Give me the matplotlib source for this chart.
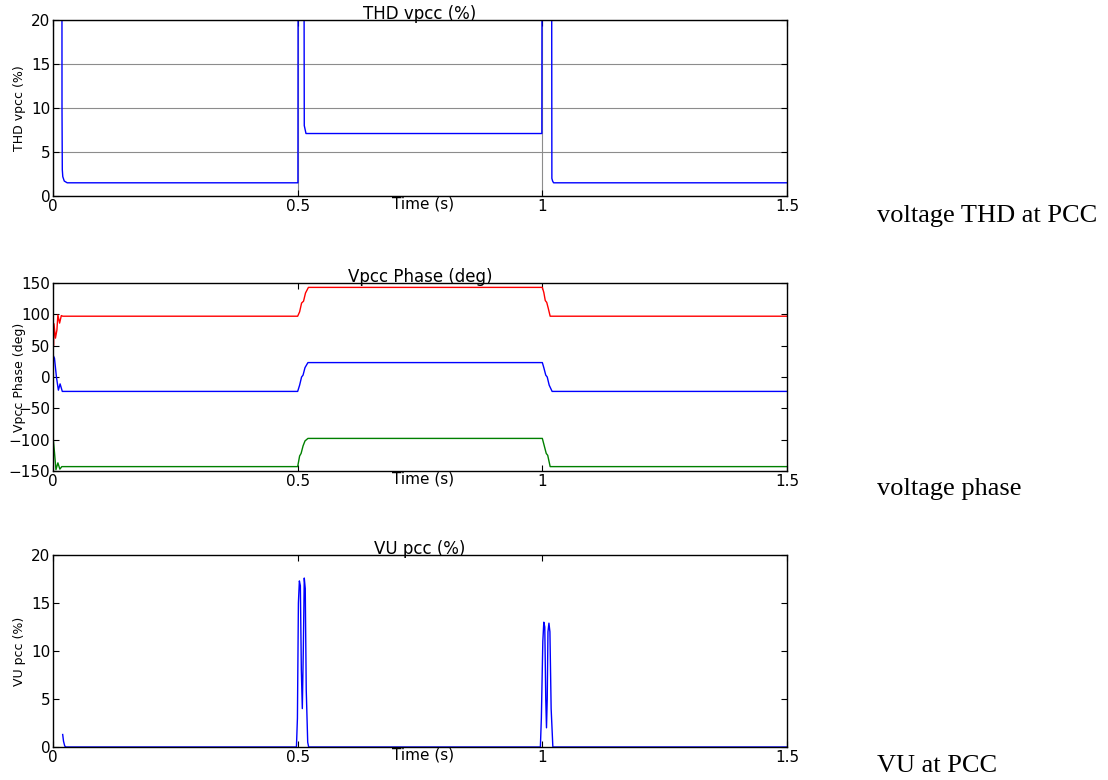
import matplotlib
matplotlib.use("Agg")
import matplotlib.pyplot as plt

# ---- data -------------------------------------------------------------
# Voltage THD at the PCC (%)
thd_time = [0.0, 0.0001, 0.0180, 0.0184, 0.0190, 0.0200, 0.0230, 0.0290,
            0.5005, 0.5015, 0.5120, 0.5135, 0.5170, 0.9990, 1.0000,
            1.0185, 1.0195, 1.0210, 1.0230, 1.5000]
thd_value = [0.0, 60.0, 60.0, 10.0, 3.0, 2.2, 1.7, 1.5,
             1.5, 60.0, 60.0, 8.0, 7.1, 7.1, 60.0,
             60.0, 2.0, 1.7, 1.5, 1.5]

# Phase angles of the PCC voltages (deg)
phase_time_r = [0.0, 0.001, 0.002, 0.005, 0.008, 0.010, 0.0135, 0.017, 0.020,
                0.500, 0.504, 0.508, 0.512, 0.516, 0.522,
                1.000, 1.003, 1.006, 1.009, 1.012, 1.016, 1.500]
phase_r = [92, 50, 85, 62, 75, 99, 86, 98, 97,
           97, 104, 118, 121, 134, 143,
           143, 135, 122, 119, 110, 97, 97]

phase_time_b = [0.0, 0.003, 0.007, 0.011, 0.0145, 0.019,
                0.500, 0.504, 0.508, 0.511, 0.515, 0.521,
                1.000, 1.003, 1.007, 1.010, 1.014, 1.020, 1.500]
phase_b = [35, 30, 0, -21, -11, -23,
           -23, -13, 0, 3, 15, 23,
           23, 15, 3, 0, -13, -23, -23]

phase_time_g = [0.0, 0.003, 0.006, 0.010, 0.014, 0.018,
                0.500, 0.504, 0.507, 0.511, 0.515, 0.521,
                1.000, 1.004, 1.008, 1.011, 1.016, 1.500]
phase_g = [-95, -120, -148, -137, -147, -143,
           -143, -126, -122, -110, -102, -98,
           -98, -110, -122, -125, -143, -143]

# Voltage unbalance at the PCC (%)
vu_time = [0.0198, 0.0215, 0.0240, 0.0265,
           0.4975, 0.4995, 0.5015, 0.5035, 0.5055, 0.5075, 0.5095,
           0.5115, 0.5135, 0.5155, 0.5175, 0.5205, 0.5225,
           0.9960, 0.9980, 1.0010, 1.0030, 1.0050, 1.0070, 1.0085,
           1.0100, 1.0115, 1.0135, 1.0155, 1.0180, 1.0215, 1.5000]
vu_value = [1.3, 0.6, 0.1, 0.0,
            0.0, 3.0, 15.0, 17.3, 16.8, 8.0, 4.0,
            10.0, 17.6, 16.5, 6.0, 0.5, 0.0,
            0.0, 3.0, 11.0, 13.0, 12.5, 5.0, 2.0,
            5.0, 12.0, 12.9, 12.0, 4.0, 0.0, 0.0]

x_ticks = [0, 0.5, 1, 1.5]
x_tick_labels = ["0", "0.5", "1", "1.5"]
thd_ticks = [0, 5, 10, 15, 20]
phase_ticks = [-150, -100, -50, 0, 50, 100, 150]
vu_ticks = [0, 5, 10, 15, 20]

# ---- figure -----------------------------------------------------------
plt.rcParams["font.family"] = ["DejaVu Sans"]
W, H = 1108, 780
fig = plt.figure(figsize=(W / 100, H / 100), dpi=100)


def make_axes(left, top, right, bottom):
    return fig.add_axes([left / W, 1 - bottom / H, (right - left) / W,
                         (bottom - top) / H])


def style(ax, yticks, ylim, title, ylabel, bottom_px, top_px):
    ax.set_xlim(0, 1.5)
    ax.set_ylim(*ylim)
    ax.set_xticks(x_ticks)
    ax.set_xticklabels(x_tick_labels)
    ax.set_yticks(yticks)
    ax.tick_params(direction="in", top=True, right=True, length=4,
                   width=0.8, labelsize=11, pad=2, colors="black")
    for s in ax.spines.values():
        s.set_linewidth(1.0)
        s.set_color("black")
    ax.set_title(title, fontsize=12, pad=1)
    h = bottom_px - top_px
    ax.set_xlabel("Time (s)", fontsize=11, va="center")
    ax.xaxis.set_label_coords(0.504, -8 / h)
    ax.set_ylabel(ylabel, fontsize=9, va="center")
    ax.yaxis.set_label_coords(-33 / 734, 0.5)


# THD
ax1 = make_axes(53, 20, 787, 196)
ax1.set_axisbelow(True)
ax1.grid(True, color="#8c8c8c", linewidth=0.8)
ax1.plot(thd_time, thd_value, color="#0000ff", linewidth=1.0)
style(ax1, thd_ticks, (0, 20), "THD vpcc (%)", "THD vpcc (%)", 196, 20)

# Phase
ax2 = make_axes(53, 283, 787, 471)
ax2.plot(phase_time_r, phase_r, color="#ff0000", linewidth=1.0)
ax2.plot(phase_time_b, phase_b, color="#0000ff", linewidth=1.0)
ax2.plot(phase_time_g, phase_g, color="#008000", linewidth=1.0)
style(ax2, phase_ticks, (-150, 150), "Vpcc Phase (deg)",
      "Vpcc Phase (deg)", 471, 283)

# VU
ax3 = make_axes(53, 555, 787, 747)
ax3.plot(vu_time, vu_value, color="#0000ff", linewidth=1.0, clip_on=False)
style(ax3, vu_ticks, (0, 20), "VU pcc (%)", "VU pcc (%)", 747, 555)

# Captions on the right
cap_kw = dict(family="Liberation Serif", fontsize=19, va="baseline",
              ha="left", color="black")
fig.text(877 / W, 1 - 221.7 / H, "voltage THD at PCC", **cap_kw)
fig.text(877 / W, 1 - 495 / H, "voltage phase", **cap_kw)
fig.text(877 / W, 1 - 771.7 / H, "VU at PCC", **cap_kw)

fig.savefig("out.png", dpi=100, facecolor="white")
